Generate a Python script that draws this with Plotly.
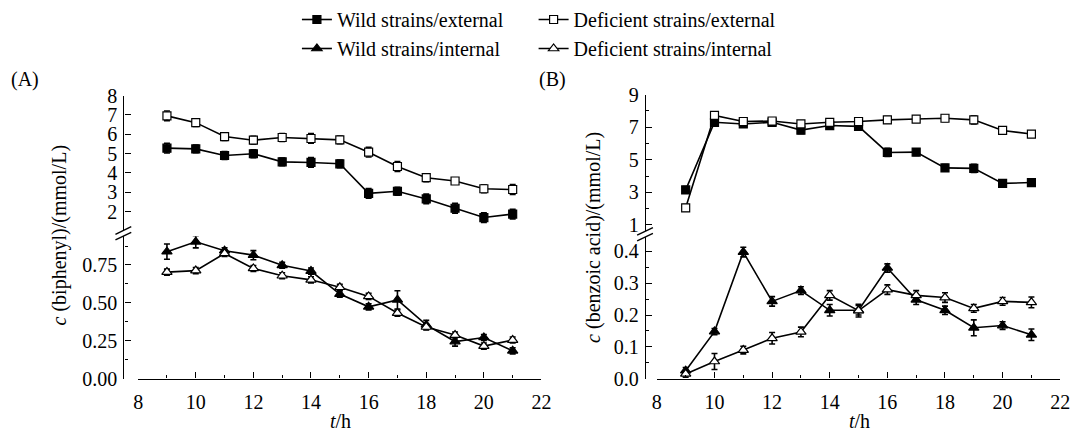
import plotly.graph_objects as go

# ---------------- data ----------------
t_h = [9, 10, 11, 12, 13, 14, 15, 16, 17, 18, 19, 20, 21]

# Panel A: biphenyl (mmol/L)
A_wild_ext = [5.28, 5.24, 4.90, 4.99, 4.57, 4.54, 4.47, 2.94, 3.05, 2.65, 2.17, 1.69, 1.87]
A_wild_ext_err = [0.25, 0.2, 0.2, 0.2, 0.2, 0.25, 0.2, 0.25, 0.2, 0.25, 0.25, 0.25, 0.25]
A_def_ext = [6.95, 6.60, 5.88, 5.69, 5.83, 5.78, 5.71, 5.07, 4.33, 3.75, 3.58, 3.18, 3.14]
A_def_ext_err = [0.25, 0.2, 0.2, 0.2, 0.2, 0.25, 0.2, 0.25, 0.25, 0.2, 0.15, 0.2, 0.25]
A_wild_int = [0.838, 0.903, 0.844, 0.815, 0.748, 0.710, 0.558, 0.474, 0.520, 0.355, 0.245, 0.272, 0.184]
A_wild_int_err = [0.05, 0.04, 0.02, 0.03, 0.02, 0.02, 0.02, 0.02, 0.06, 0.03, 0.03, 0.02, 0.02]
A_def_int = [0.703, 0.713, 0.826, 0.727, 0.679, 0.652, 0.603, 0.543, 0.433, 0.341, 0.288, 0.215, 0.255]
A_def_int_err = [0.02, 0.02, 0.02, 0.02, 0.02, 0.02, 0.02, 0.02, 0.02, 0.02, 0.02, 0.02, 0.02]

# Panel B: benzoic acid (mmol/L)
B_wild_ext = [3.15, 7.30, 7.20, 7.30, 6.82, 7.10, 7.05, 5.45, 5.47, 4.50, 4.47, 3.55, 3.60]
B_wild_ext_err = [0.2, 0.2, 0.2, 0.2, 0.2, 0.2, 0.2, 0.25, 0.2, 0.2, 0.25, 0.15, 0.2]
B_def_ext = [2.05, 7.72, 7.35, 7.38, 7.20, 7.30, 7.35, 7.45, 7.50, 7.55, 7.45, 6.80, 6.58]
B_def_ext_err = [0.2, 0.2, 0.2, 0.2, 0.2, 0.2, 0.2, 0.2, 0.2, 0.2, 0.25, 0.2, 0.2]
B_wild_int = [0.025, 0.148, 0.398, 0.243, 0.277, 0.215, 0.215, 0.348, 0.248, 0.215, 0.160, 0.167, 0.138]
B_wild_int_err = [0.01, 0.01, 0.015, 0.015, 0.012, 0.018, 0.015, 0.013, 0.015, 0.013, 0.025, 0.012, 0.018]
B_def_int = [0.015, 0.054, 0.090, 0.127, 0.147, 0.262, 0.214, 0.280, 0.262, 0.255, 0.221, 0.243, 0.240]
B_def_int_err = [0.01, 0.025, 0.012, 0.018, 0.015, 0.015, 0.02, 0.015, 0.015, 0.015, 0.012, 0.012, 0.017]

names = ["Wild strains/external", "Deficient strains/external",
         "Wild strains/internal", "Deficient strains/internal"]

# ---------------- layout helpers ----------------
W, H = 1086, 441
FONT = "'Times New Roman', 'Liberation Serif', 'DejaVu Serif', serif"
def px(x):
    return x / W
def py(y):
    return 1 - y / H

fig = go.Figure()

def add(x, y, err, name, symbol, filled, xa, ya, legend, show):
    fig.add_trace(go.Scatter(
        x=x, y=y, name=name, xaxis=xa, yaxis=ya,
        mode="lines+markers",
        line=dict(color="black", width=1.6),
        marker=dict(symbol=symbol, size=8 if symbol == "square" else 9,
                    color="black" if filled else "white",
                    line=dict(color="black", width=1.2)),
        error_y=dict(type="data", array=err, visible=True, color="black",
                     thickness=1.6, width=3),
        showlegend=show, legend=legend,
    ))

# Panel A
add(t_h, A_wild_ext, A_wild_ext_err, names[0], "square", True, "x", "y2", "legend", True)
add(t_h, A_def_ext, A_def_ext_err, names[1], "square", False, "x", "y2", "legend2", True)
add(t_h, A_wild_int, A_wild_int_err, names[2], "triangle-up", True, "x", "y", "legend", True)
add(t_h, A_def_int, A_def_int_err, names[3], "triangle-up", False, "x", "y", "legend2", True)
# Panel B
add(t_h, B_wild_ext, B_wild_ext_err, names[0], "square", True, "x2", "y4", "legend", False)
add(t_h, B_def_ext, B_def_ext_err, names[1], "square", False, "x2", "y4", "legend2", False)
add(t_h, B_wild_int, B_wild_int_err, names[2], "triangle-up", True, "x2", "y3", "legend", False)
add(t_h, B_def_int, B_def_int_err, names[3], "triangle-up", False, "x2", "y3", "legend2", False)

tickfont = dict(family=FONT, size=20, color="black")

def xaxis(x0, x1, anchor):
    return dict(domain=[px(x0), px(x1)], range=[8, 22], anchor=anchor,
                dtick=2, tick0=8, ticks="inside", ticklen=6, tickwidth=1.3,
                tickcolor="black", showline=True, linecolor="black", linewidth=1.4,
                showgrid=False, zeroline=False, tickfont=tickfont, ticklabelstandoff=5,
                minor=dict(dtick=1, ticks="inside", ticklen=3, tickcolor="black", tickwidth=1.3))

def yaxis(xpos, y0, y1, rng, dtick, tick0, fmt, minor=None):
    d = dict(domain=[py(y0), py(y1)], range=rng, anchor="free", position=px(xpos),
             dtick=dtick, tick0=tick0, tickformat=fmt, ticks="inside", ticklen=6, tickwidth=1.3,
             tickcolor="black", showline=True, linecolor="black", linewidth=1.4,
             showgrid=False, zeroline=False, tickfont=tickfont, ticklabelstandoff=2)
    if minor:
        d["minor"] = dict(dtick=minor, ticks="inside", ticklen=3, tickcolor="black", tickwidth=1.3)
    return d

AX, BX = 120, 649
fig.update_layout(
    width=W, height=H, margin=dict(l=0, r=0, t=0, b=0),
    paper_bgcolor="white", plot_bgcolor="rgba(0,0,0,0)",
    font=dict(family=FONT, size=20, color="black"),
    xaxis=xaxis(135, 544, "y"),
    xaxis2=xaxis(661, 1070, "y3"),
    yaxis=yaxis(AX, 387, 237, [0, 0.94], 0.25, 0, ".2f", 0.125),
    yaxis2=yaxis(AX, 231, 89, [1.02, 8.001], 1, 0, "d"),
    yaxis3=yaxis(BX, 387, 238, [0, 0.445], 0.1, 0, ".1f", 0.05),
    yaxis4=yaxis(BX, 232, 88, [0.6, 9.001], 2, 1, "d", 1),
    legend=dict(x=px(296), y=py(-12), xanchor="left", yanchor="top", orientation="v",
                bgcolor="rgba(0,0,0,0)", font=dict(family=FONT, size=20, color="black"),
                itemwidth=30, tracegroupgap=0),
    legend2=dict(x=px(536), y=py(-12), xanchor="left", yanchor="top", orientation="v",
                 bgcolor="rgba(0,0,0,0)", font=dict(family=FONT, size=20, color="black"),
                 itemwidth=30, tracegroupgap=0),
)

ann = [
    dict(text="(A)", x=px(4), y=py(72), xanchor="left", yanchor="middle"),
    dict(text="(B)", x=px(539), y=py(72), xanchor="left", yanchor="middle"),
    dict(text="<i>c</i> (biphenyl)/(mmol/L)", x=px(55), y=py(236), textangle=-90,
         xanchor="center", yanchor="middle"),
    dict(text="<i>c</i> (benzoic acid)/(mmol/L)", x=px(596), y=py(238), textangle=-90,
         xanchor="center", yanchor="middle"),
    dict(text="<i>t</i>/h", x=px(340), y=py(432), xanchor="center", yanchor="middle"),
    dict(text="<i>t</i>/h", x=px(866), y=py(432), xanchor="center", yanchor="middle"),
]
for a in ann:
    a.update(xref="paper", yref="paper", showarrow=False,
             font=dict(family=FONT, size=20, color="black"))
fig.update_layout(annotations=ann)

# axis-break marks
shapes = []
for xb, yb in [(AX, 234), (BX, 235)]:
    for off in (-3, 3):
        shapes.append(dict(type="line", xref="paper", yref="paper",
                           x0=px(xb - 8), y0=py(yb + off + 4), x1=px(xb + 8), y1=py(yb + off - 4),
                           line=dict(color="black", width=1.4)))
fig.update_layout(shapes=shapes)

fig.write_html("out.html")
